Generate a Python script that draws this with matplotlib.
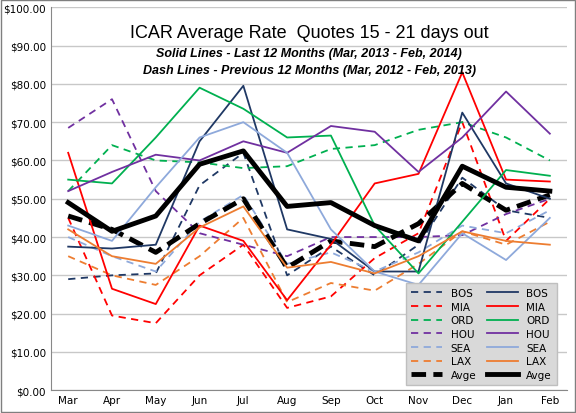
import matplotlib
matplotlib.use("Agg")
import matplotlib.pyplot as plt
from matplotlib.ticker import FuncFormatter

months = ["Mar", "Apr", "May", "Jun", "Jul", "Aug", "Sep", "Oct", "Nov", "Dec", "Jan", "Feb"]
cities = ["BOS", "MIA", "ORD", "HOU", "SEA", "LAX", "Avge"]
colors = ["#1F3864", "#FF0000", "#00B050", "#7030A0", "#8EA9DB", "#ED7D31", "#000000"]

# previous 12 months (dashed)
prev = {
    "BOS": [29, 30, 30.5, 53.5, 62, 30, 37.5, 30, 38, 55.5, 47, 45],
    "MIA": [45, 19.5, 17.5, 30, 38, 21.5, 24.5, 34.5, 41, 70, 39, 50],
    "ORD": [52, 64, 60, 59.5, 58, 58.5, 63, 64, 68, 70, 66, 60],
    "HOU": [68.5, 76, 52, 41, 38, 35, 40, 40, 40, 40.5, 46, 50],
    "SEA": [40, 35, 31, 44, 51, 33, 36, 31, 36, 43, 41, 47],
    "LAX": [35, 30, 27.5, 35, 45, 23, 28, 26, 33, 41.5, 38, 44],
    "Avge": [45.5, 42, 36, 43.5, 50, 32, 39, 37.5, 43.5, 54, 47, 51],
}
# last 12 months (solid)
last = {
    "BOS": [37.5, 37, 38, 65, 79.5, 42, 39.5, 31, 31, 72.5, 54, 50],
    "MIA": [62, 26.5, 22.5, 43, 39, 23.5, 38, 54, 56.5, 83, 55, 54.5],
    "ORD": [55, 54, 66, 79, 73.5, 66, 66.5, 43, 30.5, 44, 57.5, 56],
    "HOU": [52, 57, 61.5, 60, 65, 62, 69, 67.5, 57, 66, 78, 67],
    "SEA": [43, 39, 53, 66, 70, 62, 42, 31, 27.5, 41, 34, 45],
    "LAX": [42, 35, 33, 42.5, 48, 32, 33.5, 30.5, 35, 41.5, 39, 38],
    "Avge": [49, 41.5, 45.5, 59, 62.5, 48, 49, 43, 39, 58.5, 53, 52],
}

fig, ax = plt.subplots(figsize=(5.76, 4.14), dpi=100)
fig.subplots_adjust(left=0.088, right=0.985, top=0.98, bottom=0.055)
fig.patches.append(plt.Rectangle((0.001, 0.002), 0.997, 0.995, transform=fig.transFigure,
                                 fill=False, edgecolor="#7f7f7f", lw=1))
x = range(len(months))
handles = []
for c, col in zip(cities, colors):
    lw = 3.5 if c == "Avge" else 1.3
    h, = ax.plot(x, prev[c], color=col, lw=lw, ls=(0, (4, 3)) if c != "Avge" else (0, (3, 1.5)), label=c)
    handles.append(h)
for c, col in zip(cities, colors):
    lw = 3.5 if c == "Avge" else 1.3
    h, = ax.plot(x, last[c], color=col, lw=lw, label=c)
    handles.append(h)

ax.set_ylim(0, 100)
ax.set_xlim(-0.4, 11.4)
ax.set_yticks(range(0, 101, 10))
ax.yaxis.set_major_formatter(FuncFormatter(lambda v, p: f"${v:.2f}"))
ax.set_xticks(list(x))
ax.set_xticklabels(months)
ax.tick_params(labelsize=7.5, length=0)
ax.grid(axis="y", color="#c8c8c8", lw=1)
ax.set_axisbelow(True)
for s in ["top", "right"]:
    ax.spines[s].set_visible(False)
ax.spines["left"].set_color("#888888")
ax.spines["bottom"].set_color("#888888")

ax.text(0.5, 0.935, "ICAR Average Rate  Quotes 15 - 21 days out", transform=ax.transAxes,
        ha="center", va="center", fontsize=13, family="Liberation Sans")
ax.text(0.5, 0.88, "Solid Lines - Last 12 Months (Mar, 2013 - Feb, 2014)", transform=ax.transAxes,
        ha="center", va="center", fontsize=9, fontweight="bold", fontstyle="italic", family="Liberation Sans")
ax.text(0.5, 0.835, "Dash Lines - Previous 12 Months (Mar, 2012 - Feb, 2013)", transform=ax.transAxes,
        ha="center", va="center", fontsize=9, fontweight="bold", fontstyle="italic", family="Liberation Sans")

leg = ax.legend(handles=handles, ncol=2, loc="lower right", bbox_to_anchor=(0.99, 0.0),
                fontsize=7.5, frameon=True, fancybox=False, facecolor="#d9d9d9",
                edgecolor="#bfbfbf", handlelength=3, labelspacing=0.35, columnspacing=1.0,
                borderpad=0.5)
leg.get_frame().set_alpha(1)
plt.savefig("out.png", dpi=100)
